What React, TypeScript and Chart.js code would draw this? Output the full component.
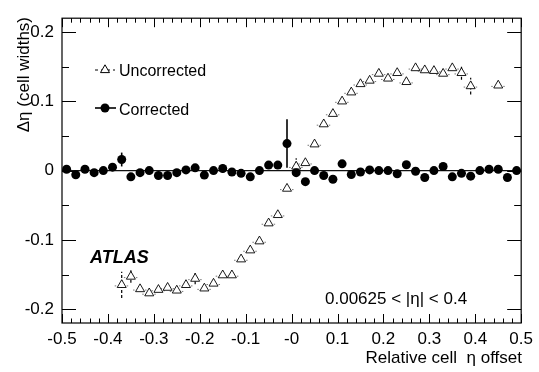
import React, { useEffect, useRef } from "react";
import { Chart, registerables } from "chart.js";

Chart.register(...registerables);

// ---- data ----
const xCorrected = [
  -0.49, -0.47, -0.45, -0.43, -0.41, -0.39, -0.37, -0.35, -0.33, -0.31,
  -0.29, -0.27, -0.25, -0.23, -0.21, -0.19, -0.17, -0.15, -0.13, -0.11,
  -0.09, -0.07, -0.05, -0.03, -0.01, 0.01, 0.03, 0.05, 0.07, 0.09,
  0.11, 0.13, 0.15, 0.17, 0.19, 0.21, 0.23, 0.25, 0.27, 0.29,
  0.31, 0.33, 0.35, 0.37, 0.39, 0.41, 0.43, 0.45, 0.47, 0.49,
];
const yCorrected = [
  0.002, -0.006, 0.002, -0.003, 0.0, 0.005, 0.016, -0.009, -0.003, 0.0,
  -0.007, -0.007, -0.003, 0.001, 0.004, -0.0065, 0.0, 0.003, -0.002, -0.004,
  -0.009, 0.0, 0.008, 0.008, 0.039, -0.003, -0.016, 0.0, -0.007, -0.0125,
  0.0098, -0.0056, -0.002, 0.001, 0.0, 0.0, -0.0046, 0.0084, -0.001, -0.010,
  0.0, 0.006, -0.009, -0.004, -0.008, 0.0, 0.002, 0.002, -0.010, 0.0,
];
const errCorrected = [
  0, 0, 0, 0, 0, 0, 0.010, 0, 0, 0,
  0, 0, 0, 0, 0, 0, 0, 0.006, 0, 0,
  0, 0, 0, 0, 0.035, 0, 0, 0, 0, 0,
  0, 0, 0, 0, 0, 0, 0, 0, 0, 0,
  0, 0, 0, 0, 0, 0, 0, 0, 0, 0,
];

const xUncorrected = [
  -0.37, -0.35, -0.33, -0.31, -0.29, -0.27, -0.25, -0.23, -0.21, -0.19,
  -0.17, -0.15, -0.13, -0.11, -0.09, -0.07, -0.05, -0.03, -0.01, 0.01,
  0.03, 0.05, 0.07, 0.09, 0.11, 0.13, 0.15, 0.17, 0.19, 0.21,
  0.23, 0.25, 0.27, 0.29, 0.31, 0.33, 0.35, 0.37, 0.39, 0.45,
];
const yUncorrected = [
  -0.165, -0.153, -0.171, -0.177, -0.172, -0.169, -0.173, -0.165, -0.156, -0.170,
  -0.163, -0.151, -0.151, -0.128, -0.115, -0.102, -0.076, -0.064, -0.026, 0.006,
  0.011, 0.038, 0.067, 0.082, 0.100, 0.113, 0.125, 0.130, 0.140, 0.133,
  0.141, 0.128, 0.148, 0.145, 0.144, 0.140, 0.148, 0.141, 0.122, 0.123,
];
const errUncorrected = [
  0.019, 0.009, 0, 0, 0, 0, 0, 0, 0.008, 0,
  0, 0, 0, 0, 0, 0, 0, 0, 0, 0.012,
  0, 0, 0, 0, 0, 0, 0, 0, 0, 0,
  0, 0, 0, 0, 0, 0, 0, 0.010, 0.012, 0,
];

const xTickValues = [-0.5, -0.4, -0.3, -0.2, -0.1, 0, 0.1, 0.2, 0.3, 0.4, 0.5];
const xTickLabels = ["-0.5", "-0.4", "-0.3", "-0.2", "-0.1", "-0", "0.1", "0.2", "0.3", "0.4", "0.5"];
const yTickValues = [-0.2, -0.1, 0, 0.1, 0.2];
const yTickLabels = ["-0.2", "-0.1", "0", "0.1", "0.2"];

const seriesNames = ["Uncorrected", "Corrected"];
const xTitle = "Relative cell  \u03b7 offset";
const yTitle = "\u0394\u03b7 (cell widths)";
const rangeLabel = "0.00625 < |\u03b7| < 0.4";
const experimentLabel = "ATLAS";

const FONT = "'Liberation Sans', Arial, Helvetica, sans-serif";

function drawTriangle(ctx: CanvasRenderingContext2D, x: number, y: number, r: number) {
  ctx.beginPath();
  ctx.moveTo(x, y - r);
  ctx.lineTo(x + r * 0.866, y + r * 0.5);
  ctx.lineTo(x - r * 0.866, y + r * 0.5);
  ctx.closePath();
  ctx.fillStyle = "#fff";
  ctx.fill();
  ctx.stroke();
}

const decorPlugin = {
  id: "decor",
  beforeDatasetsDraw(chart: any) {
    const { ctx, chartArea: a, scales } = chart;
    const xs = scales.x;
    const ys = scales.y;
    ctx.save();
    // zero line
    const y0 = ys.getPixelForValue(0);
    ctx.strokeStyle = "#111";
    ctx.lineWidth = 1.3;
    ctx.beginPath();
    ctx.moveTo(a.left, y0);
    ctx.lineTo(a.right, y0);
    ctx.stroke();

    // corrected error bars (solid)
    ctx.lineWidth = 1.6;
    ctx.strokeStyle = "#000";
    xCorrected.forEach((xv, i) => {
      const e = errCorrected[i];
      if (!e) return;
      const px = xs.getPixelForValue(xv);
      ctx.beginPath();
      ctx.moveTo(px, ys.getPixelForValue(yCorrected[i] - e));
      ctx.lineTo(px, ys.getPixelForValue(yCorrected[i] + e));
      ctx.stroke();
    });

    // uncorrected error bars (dashed) + small dashed x-bars
    ctx.lineWidth = 1.2;
    ctx.setLineDash([3, 2]);
    xUncorrected.forEach((xv, i) => {
      const px = xs.getPixelForValue(xv);
      const py = ys.getPixelForValue(yUncorrected[i]);
      const e = errUncorrected[i];
      if (e) {
        ctx.beginPath();
        ctx.moveTo(px, ys.getPixelForValue(yUncorrected[i] - e));
        ctx.lineTo(px, ys.getPixelForValue(yUncorrected[i] + e));
        ctx.stroke();
      }
    });
    ctx.setLineDash([1.5, 2.5]);
    ctx.lineWidth = 0.8;
    ctx.strokeStyle = "#555";
    xUncorrected.forEach((xv, i) => {
      const px = xs.getPixelForValue(xv);
      const py = ys.getPixelForValue(yUncorrected[i]) + 1;
      ctx.beginPath();
      ctx.moveTo(px - 7, py);
      ctx.lineTo(px + 7, py);
      ctx.stroke();
    });
    ctx.restore();
  },
  afterDraw(chart: any) {
    const { ctx, chartArea: a, scales } = chart;
    const xs = scales.x;
    const ys = scales.y;
    ctx.save();
    ctx.strokeStyle = "#000";
    ctx.lineWidth = 1.2;
    ctx.strokeRect(a.left, a.top, a.right - a.left, a.bottom - a.top);

    // x ticks (inward, bottom and top)
    ctx.lineWidth = 1;
    for (let k = 0; k <= 50; k++) {
      const v = -0.5 + k * 0.02;
      const px = Math.round(xs.getPixelForValue(v)) + 0.5;
      const major = k % 5 === 0;
      const lb = major ? 9 : 4.5;
      ctx.beginPath();
      ctx.moveTo(px, a.bottom);
      ctx.lineTo(px, a.bottom - lb);
      ctx.moveTo(px, a.top);
      ctx.lineTo(px, a.top + lb);
      ctx.stroke();
    }
    // y ticks (inward, left and right)
    for (let k = -4; k <= 4; k++) {
      const v = k * 0.05;
      const py = Math.round(ys.getPixelForValue(v)) + 0.5;
      const major = k % 2 === 0;
      const l = major ? 14 : 7;
      ctx.beginPath();
      ctx.moveTo(a.left, py);
      ctx.lineTo(a.left + l, py);
      ctx.moveTo(a.right, py);
      ctx.lineTo(a.right - l, py);
      ctx.stroke();
    }

    ctx.fillStyle = "#000";
    // axis titles
    ctx.font = `17px ${FONT}`;
    ctx.textAlign = "right";
    ctx.textBaseline = "middle";
    ctx.fillText(xTitle, 522, 358);
    ctx.save();
    ctx.translate(24, 17);
    ctx.rotate(-Math.PI / 2);
    ctx.textAlign = "right";
    ctx.fillText(yTitle, 0, 0);
    ctx.restore();

    // range label
    ctx.textAlign = "left";
    ctx.font = `17px ${FONT}`;
    ctx.fillText(rangeLabel, 325, 299);

    // ATLAS label
    ctx.font = `italic bold 18px ${FONT}`;
    ctx.fillText(experimentLabel, 90, 258);

    // legend
    ctx.font = `16px ${FONT}`;
    // Uncorrected
    ctx.strokeStyle = "#000";
    ctx.lineWidth = 1;
    ctx.setLineDash([3, 3]);
    ctx.beginPath();
    ctx.moveTo(95, 70);
    ctx.lineTo(115, 70);
    ctx.stroke();
    ctx.setLineDash([]);
    drawTriangle(ctx, 105, 70, 5.2);
    ctx.fillStyle = "#000";
    ctx.fillText(seriesNames[0], 119, 72);
    // Corrected
    ctx.lineWidth = 1.6;
    ctx.beginPath();
    ctx.moveTo(95, 108);
    ctx.lineTo(116, 108);
    ctx.stroke();
    ctx.beginPath();
    ctx.arc(105, 108, 4.5, 0, Math.PI * 2);
    ctx.fill();
    ctx.fillText(seriesNames[1], 119, 111);
    ctx.restore();
  },
};

export default function App() {
  const ref = useRef<HTMLCanvasElement | null>(null);

  useEffect(() => {
    if (!ref.current) return;
    const chart = new Chart(ref.current, {
      type: "scatter",
      data: {
        datasets: [
          {
            label: seriesNames[1],
            data: xCorrected.map((x, i) => ({ x, y: yCorrected[i] })),
            pointStyle: "circle",
            pointRadius: 4.5,
            pointBackgroundColor: "#000",
            pointBorderColor: "#000",
            pointBorderWidth: 0,
            showLine: false,
            order: 0,
          },
          {
            label: seriesNames[0],
            data: xUncorrected.map((x, i) => ({ x, y: yUncorrected[i] })),
            pointStyle: "triangle",
            pointRadius: 5.2,
            pointBackgroundColor: "#fff",
            pointBorderColor: "#000",
            pointBorderWidth: 0.9,
            showLine: false,
            order: 1,
          },
        ],
      },
      options: {
        responsive: false,
        animation: false,
        events: [],
        layout: { padding: { left: 0, top: 9, right: 12, bottom: 0 } },
        plugins: {
          legend: { display: false },
          tooltip: { enabled: false },
          title: { display: false },
        },
        scales: {
          x: {
            type: "linear",
            min: -0.5,
            max: 0.5,
            grid: { display: false, drawTicks: false },
            border: { display: false },
            afterFit: (s: any) => {
              s.height = 49;
            },
            afterBuildTicks: (s: any) => {
              s.ticks = xTickValues.map((v) => ({ value: v }));
            },
            ticks: {
              autoSkip: false,
              maxRotation: 0,
              padding: 6,
              color: "#000",
              font: { family: FONT, size: 17 },
              callback: (_v: any, i: number) => xTickLabels[i],
            },
          },
          y: {
            type: "linear",
            min: -0.22,
            max: 0.22,
            grid: { display: false, drawTicks: false },
            border: { display: false },
            afterFit: (s: any) => {
              s.width = 62;
            },
            afterBuildTicks: (s: any) => {
              s.ticks = yTickValues.map((v) => ({ value: v }));
            },
            ticks: {
              autoSkip: false,
              padding: 8,
              color: "#000",
              font: { family: FONT, size: 17 },
              callback: (_v: any, i: number) => yTickLabels[i],
            },
          },
        },
      },
      plugins: [decorPlugin],
    });
    return () => chart.destroy();
  }, []);

  return (
    <div style={{ position: "fixed", left: 0, top: 0, width: 539, height: 372, background: "#fff" }}>
      <canvas ref={ref} width={539} height={372} style={{ display: "block" }} />
    </div>
  );
}
